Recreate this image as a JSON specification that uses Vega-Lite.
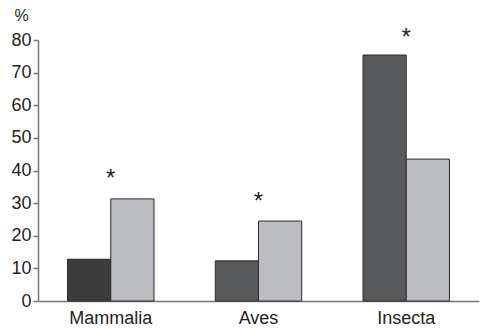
{
  "$schema": "https://vega.github.io/schema/vega-lite/v6.json",
  "width": 441,
  "height": 261,
  "autosize": {"type": "none"},
  "padding": {"left": 38, "top": 40, "right": 2, "bottom": 29},
  "background": "white",
  "config": {
    "view": {"stroke": null},
    "font": "Liberation Sans"
  },
  "datasets": {
    "bars": [
      {"group": "Mammalia", "series": "a", "value": 12.8},
      {"group": "Mammalia", "series": "b", "value": 31.3},
      {"group": "Aves", "series": "a", "value": 12.3},
      {"group": "Aves", "series": "b", "value": 24.5},
      {"group": "Insecta", "series": "a", "value": 75.4},
      {"group": "Insecta", "series": "b", "value": 43.5}
    ],
    "stars": [
      {"group": "Mammalia", "value": 37.5, "label": "*"},
      {"group": "Aves", "value": 30.3, "label": "*"},
      {"group": "Insecta", "value": 80.6, "label": "*"}
    ]
  },
  "encoding": {
    "x": {
      "field": "group", "type": "nominal",
      "scale": {"domain": ["Mammalia", "Aves", "Insecta"], "paddingInner": 0.415, "paddingOuter": 0.2},
      "axis": {
        "title": null, "labelAngle": 0, "ticks": false, "labelFontSize": 18,
        "labelColor": "#231f20", "labelPadding": 8, "domainColor": "#777777", "domainWidth": 1.5
      }
    },
    "y": {
      "field": "value", "type": "quantitative",
      "scale": {"domain": [0, 80], "nice": false},
      "axis": {
        "title": "%", "titleAngle": 0, "titleFontSize": 16, "titleFontWeight": "normal",
        "titleColor": "#231f20", "titleX": -17, "titleY": -20, "titleAlign": "center", "titleBaseline": "alphabetic",
        "values": [0, 10, 20, 30, 40, 50, 60, 70, 80], "labelOverlap": false,
        "grid": false, "labelFontSize": 18, "labelColor": "#231f20", "labelPadding": 2,
        "tickSize": 5, "tickColor": "#777777", "tickWidth": 1.5,
        "domainColor": "#777777", "domainWidth": 1.5
      }
    }
  },
  "layer": [
    {
      "data": {"name": "bars"},
      "mark": {"type": "bar", "stroke": "#2a2a2a", "strokeWidth": 1},
      "encoding": {
        "xOffset": {"field": "series", "type": "nominal", "scale": {"domain": ["a", "b"]}},
        "color": {
          "condition": {"test": "datum.group === 'Mammalia' && datum.series === 'a'", "value": "#3c3c3c"},
          "field": "series", "type": "nominal",
          "scale": {"domain": ["a", "b"], "range": ["#58595b", "#bcbdc0"]},
          "legend": null
        }
      }
    },
    {
      "data": {"name": "stars"},
      "mark": {"type": "text", "fontSize": 24, "baseline": "middle", "align": "center", "color": "#231f20", "clip": false},
      "encoding": {
        "text": {"field": "label"}
      }
    }
  ]
}
